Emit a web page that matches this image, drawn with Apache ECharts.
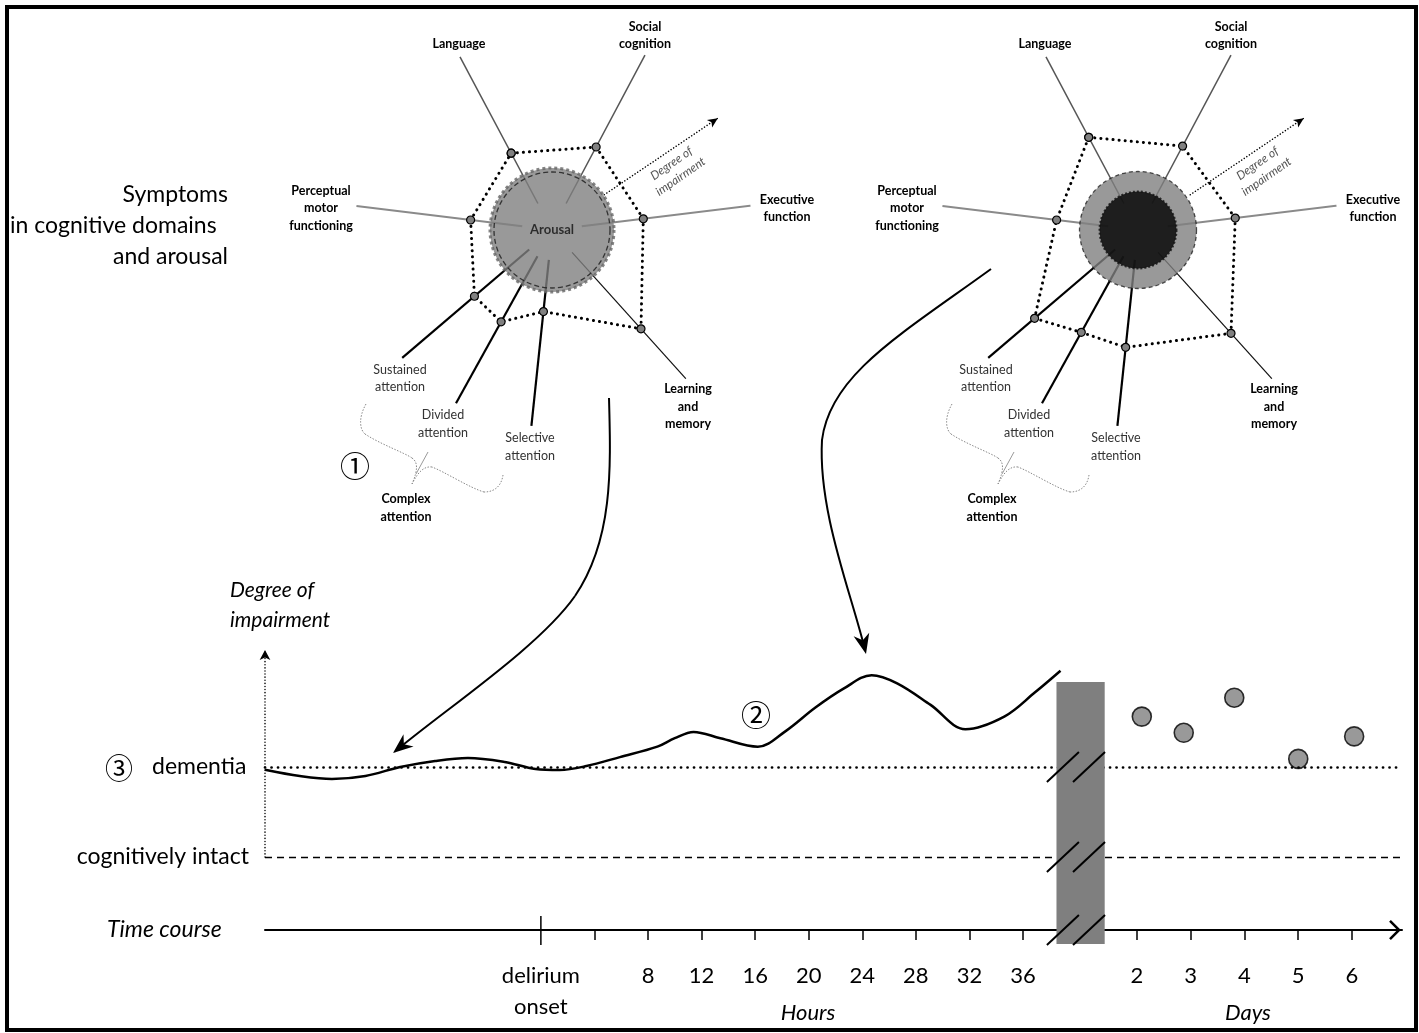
<!DOCTYPE html>
<html><head><meta charset="utf-8">
<script src="https://cdn.jsdelivr.net/npm/echarts@6/dist/echarts.min.js"></script>
<style>html,body{margin:0;padding:0;background:#fff}#c{width:1419px;height:1033px}</style>
</head><body><div id="c"></div>
<script>
// ---------------- data ----------------
const domains = ['Language','Social cognition','Executive function','Learning and memory','Selective attention','Divided attention','Sustained attention','Perceptual motor functioning'];
const spokeAngles = [118, 62, 7, 312, 264, 241, 220.5, 173];          // degrees, counter-clockwise from east
const spokeOuter  = [196, 198, 202, 203, 197, 198, 197, 197];
const impairLeft  = [87, 94, 92, 133, 82, 105, 102, 82];              // degree of impairment (radial)
const impairRight = [105, 95, 98, 139, 118, 117, 136, 82];
const impairArrowAngle = 34;

const curveHours = [-20.6,-18.0,-15.6,-13.1,-10.5,-7.9,-5.45,-2.7,-0.4,1.4,3.4,5.9,8.7,10.0,11.4,13.4,16.2,18.2,20.5,22.6,24.7,26.6,29.1,31.7,34.6,36.9,38.8];
const curveLevel = [0.97,0.9,0.867,0.9,1.0,1.067,1.1,1.056,0.978,0.967,1.011,1.11,1.226,1.32,1.39,1.32,1.226,1.39,1.66,1.87,2.02,1.93,1.69,1.42,1.56,1.83,2.07];
const dayValues  = [2.09, 2.87, 3.81, 5.0, 6.04];
const dayLevels  = [1.56, 1.38, 1.77, 1.09, 1.34];

const hourTicks  = [4,8,12,16,20,24,28,32,36];
const hourLabels = [0,8,12,16,20,24,28,32,36];
const dayTicks   = [2,3,4,5,6];
const levelIntact = 0, levelDementia = 1;
const hourMin = -20.6, hourMax = 64.3, dayMin = -14.22, dayMax = 6.93;
const yMin = -0.8111, yMax = 2.3;
const breakStart = 38.5, breakEnd = 42.1, breakMarks = [38.98, 40.93];

// ---------------- chart ----------------
const FONT = 'Lato, "Open Sans", "Noto Sans", sans-serif';
const CJK = '"Noto Sans CJK JP", "Noto Sans CJK SC", sans-serif';
const chart = echarts.init(document.getElementById('c'));

function spokeStyle(d){
  if (d === 'Language' || d === 'Social cognition') return {color:'#555', width:1.5};
  if (d === 'Executive function' || d === 'Perceptual motor functioning') return {color:'#8a8a8a', width:2};
  if (d === 'Learning and memory') return {color:'#111', width:1.2};
  return {color:'#000', width:2.2};
}

const series = [];
[[0, impairLeft], [1, impairRight]].forEach(([pi, imp]) => {
  domains.forEach((d, i) => {
    series.push({type:'line', coordinateSystem:'polar', polarIndex:pi, silent:true, z:2,
      data:[[30, spokeAngles[i]], [spokeOuter[i], spokeAngles[i]]], symbol:'none', lineStyle:spokeStyle(d)});
  });
  series.push({type:'line', coordinateSystem:'polar', polarIndex:pi, silent:true, z:2, showSymbol:true,
    data:[{value:[63, impairArrowAngle], symbol:'none'},
          {value:[200, impairArrowAngle], symbol:'arrow', symbolSize:[7,10], symbolRotate:impairArrowAngle-90}],
    itemStyle:{color:'#000'}, lineStyle:{color:'#000', width:1.5, type:[0.1,3], cap:'round'}});
  const poly = domains.map((d, i) => [imp[i], spokeAngles[i]]);
  poly.push(poly[0]);
  series.push({type:'line', coordinateSystem:'polar', polarIndex:pi, silent:true, z:5,
    data:poly, symbol:'circle', symbolSize:8,
    itemStyle:{color:'#808080', borderColor:'#000', borderWidth:1.2},
    lineStyle:{color:'#000', width:3, type:[0.1,6], cap:'round'}});
});
// arousal circles
series.push({type:'scatter', coordinateSystem:'polar', polarIndex:0, silent:true, z:3, data:[[0,0]], symbolSize:124,
  itemStyle:{color:'#7f7f7f', borderColor:'#666', borderWidth:3, borderType:'dotted'}});
series.push({type:'scatter', coordinateSystem:'polar', polarIndex:0, silent:true, z:4, data:[[0,0]], symbolSize:116,
  itemStyle:{color:'rgba(0,0,0,0)', borderColor:'#1a1a1a', borderWidth:1.3, borderType:[5,3]},
  label:{show:true, position:'inside', formatter:'Arousal', fontFamily:FONT, fontWeight:'bold', fontSize:13, color:'#111'}});
series.push({type:'scatter', coordinateSystem:'polar', polarIndex:1, silent:true, z:3, data:[[0,0]], symbolSize:117,
  itemStyle:{color:'#7f7f7f', borderColor:'#222', borderWidth:1.3, borderType:[4,3]}});
series.push({type:'scatter', coordinateSystem:'polar', polarIndex:1, silent:true, z:4, data:[[0,0]], symbolSize:77,
  itemStyle:{color:'#000', borderColor:'#111', borderWidth:2, borderType:'dotted'}});

// time course
const dottedLine = {color:'#000', width:1.5, type:[0.1,3], cap:'round'};
series.push({type:'line', xAxisIndex:0, yAxisIndex:0, z:3, silent:true,
  data: curveHours.map((h, i) => [h, curveLevel[i]]), smooth:0.35, symbol:'none',
  lineStyle:{color:'#000', width:2.5},
  markLine:{silent:true, symbol:'none', label:{show:false}, animation:false, data:[
    {yAxis: levelDementia, lineStyle:{color:'#000', width:2.7, type:[0.1,6.4], cap:'round'}},
    {yAxis: levelIntact, lineStyle:{color:'#000', width:1.4, type:[7,5]}},
    [{coord:[hourMin, levelIntact], symbol:'none', lineStyle:dottedLine},
     {coord:[hourMin, yMax], symbol:'arrow', symbolSize:[8,10], lineStyle:dottedLine}]
  ]}});
series.push({type:'scatter', xAxisIndex:1, yAxisIndex:0, z:4, silent:true,
  data: dayValues.map((d, i) => [d, dayLevels[i]]), symbolSize:19,
  itemStyle:{color:'#808080', borderColor:'#000', borderWidth:1.6}});

const labelStyle = {color:'#000', fontFamily:FONT, fontSize:22, lineHeight:31, margin:30};
const chevron = 'path://M10,0 L20,10 L18.2,11.8 L10,3.6 L1.8,11.8 L0,10 Z';

chart.setOption({
  animation:false,
  polar:[{center:[552,230], radius:200}, {center:[1138,230], radius:200}],
  radiusAxis:[{polarIndex:0, type:'value', min:0, max:200, show:false},
              {polarIndex:1, type:'value', min:0, max:200, show:false}],
  angleAxis:[{polarIndex:0, type:'value', min:0, max:360, startAngle:0, clockwise:false, show:false},
             {polarIndex:1, type:'value', min:0, max:360, startAngle:0, clockwise:false, show:false}],
  grid:[{left:265, right:17, top:650, bottom:103}],
  xAxis:[
    {gridIndex:0, type:'value', position:'bottom', min:hourMin, max:hourMax,
     axisLine:{show:true, onZero:false, lineStyle:{color:'#000', width:2}, symbol:['none', chevron], symbolSize:[20,14], symbolOffset:[0,-7]},
     axisTick:{show:true, customValues:hourTicks, length:10, lineStyle:{color:'#000', width:1.5}},
     axisLabel:Object.assign({customValues:hourLabels, formatter:v => v === 0 ? 'delirium\nonset' : String(v)}, labelStyle),
     splitLine:{show:false}},
    {gridIndex:0, type:'value', position:'bottom', min:dayMin, max:dayMax,
     axisLine:{show:false, onZero:false},
     axisTick:{show:true, customValues:dayTicks, length:10, lineStyle:{color:'#000', width:1.5}},
     axisLabel:Object.assign({customValues:dayTicks}, labelStyle),
     splitLine:{show:false}}
  ],
  yAxis:[{gridIndex:0, type:'value', min:yMin, max:yMax, show:false}],
  series
});

// ---------------- annotations ----------------
const px = (h, v) => chart.convertToPixel({xAxisIndex:0, yAxisIndex:0}, [h, v]);
const G = [];
function txt(x, y, text, o){
  o = o || {};
  G.push({type:'text', x, y, z:40, rotation:o.rot || 0, silent:true, style:{text, fill:o.fill || '#000',
    font:(o.style || 'normal') + ' ' + (o.weight || 'normal') + ' ' + (o.size || 22) + 'px ' + (o.family || FONT),
    align:o.align || 'center', verticalAlign:'middle', lineHeight:o.lh || (o.size || 22) * 1.35}});
}
function bez(pts, style, ox){
  ox = ox || 0;
  for (let i = 0; i + 3 < pts.length; i += 3) {
    G.push({type:'bezierCurve', z:30, silent:true, shape:{
      x1:pts[i][0]+ox, y1:pts[i][1], cpx1:pts[i+1][0]+ox, cpy1:pts[i+1][1],
      cpx2:pts[i+2][0]+ox, cpy2:pts[i+2][1], x2:pts[i+3][0]+ox, y2:pts[i+3][1]}, style:Object.assign({fill:null}, style)});
  }
}
txt(228, 195, 'Symptoms', {align:'right', size:23});
txt(10, 226, 'in cognitive domains', {align:'left', size:23});
txt(228, 257, 'and arousal', {align:'right', size:23});
txt(230, 590, 'Degree of', {align:'left', style:'italic', size:21});
txt(230, 620, 'impairment', {align:'left', style:'italic', size:21});
txt(119, 768, '③', {size:28, family:CJK});
txt(152, 767, 'dementia', {align:'left', size:23});
txt(249, 857, 'cognitively intact', {align:'right', size:23});
txt(107, 930, 'Time course', {align:'left', style:'italic', size:23});
txt(808, 1013, 'Hours', {style:'italic', size:22});
txt(1248, 1013, 'Days', {style:'italic', size:22});
txt(756, 715, '②', {size:30, family:CJK});
txt(355, 466, '①', {size:30, family:CJK});

const radarLabels = [
  ['Language', -93, -186, true], ['Social\ncognition', 93, -194.5, true],
  ['Perceptual\nmotor\nfunctioning', -231, -22, true], ['Executive\nfunction', 235, -21.5, true],
  ['Learning\nand\nmemory', 136, 176.5, true], ['Sustained\nattention', -152, 148.5, false],
  ['Divided\nattention', -109, 194, false], ['Selective\nattention', -22, 217, false],
  ['Complex\nattention', -146, 278, true]
];
const braceL = [[366,404],[358,418],[360,430],[365,434],[380,444],[405,453],[412,458],[418,462],[418,470],[412,484]];
const braceR = [[503,475],[502,482],[498,492],[484,492],[470,488],[445,472],[432,467],[424,466],[418,472],[412,484]];
[[552,230],[1138,230]].forEach(([cx, cy]) => {
  radarLabels.forEach(([t, dx, dy, b]) => txt(cx + dx, cy + dy, t, {size:12.5, weight:b ? 'bold' : 'normal', fill:b ? '#000' : '#333', lh:17.5}));
  txt(cx + 124, cy - 60, 'Degree of\nimpairment', {size:12, style:'italic', fill:'#555', lh:16, rot:35 * Math.PI / 180});
  const ox = cx - 552;
  const bs = {stroke:'#888', lineWidth:1, lineDash:[1.5,1.5]};
  bez(braceL, bs, ox);
  bez(braceR, bs, ox);
  G.push({type:'line', z:30, silent:true, shape:{x1:428+ox, y1:452, x2:416+ox, y2:474}, style:{stroke:'#999', lineWidth:1}});
});

function head(tx, ty, fx, fy){
  const dx = tx - fx, dy = ty - fy, L = Math.hypot(dx, dy), ux = dx / L, uy = dy / L, nx = -uy, ny = ux;
  const len = 20, w = 8, notch = 6;
  G.push({type:'polygon', z:30, silent:true, shape:{points:[[tx,ty],[tx-ux*len+nx*w, ty-uy*len+ny*w],[tx-ux*(len-notch), ty-uy*(len-notch)],[tx-ux*len-nx*w, ty-uy*len-ny*w]]}, style:{fill:'#000'}});
}
const arrowStyle = {stroke:'#000', lineWidth:2};
bez([[609,398],[611,470],[613,540],[575,596],[540,646],[450,706],[398,749]], arrowStyle);
head(393, 753, 446, 710);
bez([[991,269],[900,335],[830,375],[822,440],[818,510],[850,590],[864,646]], arrowStyle);
head(866, 654, 858, 620);

// onset tick
const o0 = px(0, yMin);
G.push({type:'line', z:20, silent:true, shape:{x1:o0[0], y1:o0[1]-14, x2:o0[0], y2:o0[1]+15}, style:{stroke:'#000', lineWidth:1.5}});

// break band and marks
const b0 = px(breakStart, 1.944), b1 = px(breakEnd, -0.967);
G.push({type:'rect', z:50, silent:true, shape:{x:b0[0], y:b0[1], width:b1[0]-b0[0], height:b1[1]-b0[1]}, style:{fill:'#7f7f7f'}});
[levelDementia, levelIntact, yMin].forEach(v => {
  breakMarks.forEach(h => {
    const c = px(h, v);
    G.push({type:'line', z:51, silent:true, shape:{x1:c[0]-16, y1:c[1]+15, x2:c[0]+16, y2:c[1]-15}, style:{stroke:'#000', lineWidth:2}});
  });
});
// frame
G.push({type:'rect', z:60, silent:true, shape:{x:7, y:7, width:1409, height:1023}, style:{fill:null, stroke:'#000', lineWidth:4}});

chart.setOption({graphic:{elements:G}});
</script></body></html>
